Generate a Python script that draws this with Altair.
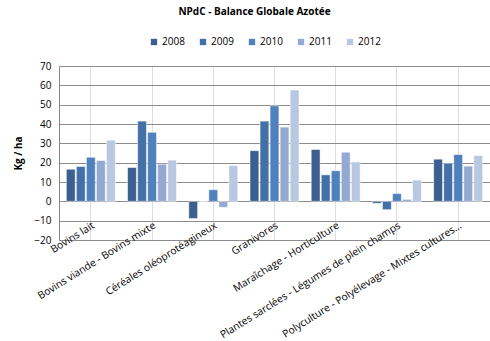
import altair as alt
import pandas as pd

categories = [
    "Bovins lait",
    "Bovins viande - Bovins mixte",
    "Céréales oléoprotéagineux",
    "Granivores",
    "Maraîchage - Horticulture",
    "Plantes sarclées - Légumes de plein champs",
    "Polyculture - Polyélevage - Mixtes cultures...",
]
years = ["2008", "2009", "2010", "2011", "2012"]
v2008 = [16.6, 17.5, -8.9, 26.2, 26.8, -1.0, 21.8]
v2009 = [18.0, 41.5, 0.0, 41.5, 13.7, -4.3, 19.7]
v2010 = [22.8, 35.7, 6.0, 49.4, 15.8, 4.0, 24.2]
v2011 = [21.1, 19.2, -3.1, 38.4, 25.4, 1.0, 18.2]
v2012 = [31.6, 21.3, 18.5, 57.6, 20.4, 11.0, 23.7]
colors = ["#3C5F8F", "#4470A8", "#4F81BD", "#94A9D2", "#B9C8E2"]

series = [v2008, v2009, v2010, v2011, v2012]
rows = []
for y, vals in zip(years, series):
    for c, v in zip(categories, vals):
        rows.append({"cat": c, "year": y, "val": v})
df = pd.DataFrame(rows)

FONT = "Open Sans"

bars = alt.Chart(df).mark_bar(stroke="white", strokeWidth=0.5).encode(
    x=alt.X("cat:N", sort=categories, title=None,
            scale=alt.Scale(paddingInner=0.2, paddingOuter=0.12),
            axis=alt.Axis(labelAngle=328, labelFontSize=10.3, labelFont=FONT,
                          labelColor="#000000", ticks=False, domain=False,
                          labelPadding=-20, labelLimit=300, labelOverlap=False)),
    xOffset=alt.XOffset("year:N", sort=years,
                        scale=alt.Scale(paddingInner=0.12)),
    y=alt.Y("val:Q", title="Kg / ha",
            scale=alt.Scale(domain=[-20, 70], nice=False),
            axis=alt.Axis(values=list(range(-20, 71, 10)), labelFontSize=10,
                          labelFont=FONT, labelColor="#000000", ticks=False,
                          domain=True, domainColor="#868686",
                          gridColor="#8c8c8c", gridOpacity=1, gridWidth=1,
                          labelPadding=8,
                          titleFont=FONT, titleFontSize=10, titleFontWeight="bold",
                          titleColor="#000000", titlePadding=10)),
    color=alt.Color("year:N", sort=years,
                    scale=alt.Scale(domain=years, range=colors),
                    legend=alt.Legend(title=None, orient="none", direction="horizontal",
                                      legendX=90, legendY=-29, symbolType="square",
                                      symbolSize=40, symbolStrokeWidth=0,
                                      labelFont=FONT, labelFontSize=10,
                                      labelColor="#000000", columnPadding=13,
                                      labelOffset=3)),
)

chart = bars.properties(
    width=431, height=174,
    autosize=alt.AutoSizeParams(type="none"),
    padding={"left": 59, "top": 66, "right": 0, "bottom": 101},
    title=alt.TitleParams("NPdC - Balance Globale Azotée", anchor="middle",
                          font=FONT, fontSize=10, fontWeight="bold",
                          color="#000000", offset=20, dx=-20),
).configure_view(stroke=None).configure_axis(grid=True)

chart.save("out.html", embed_options={"renderer": "svg", "actions": False})
